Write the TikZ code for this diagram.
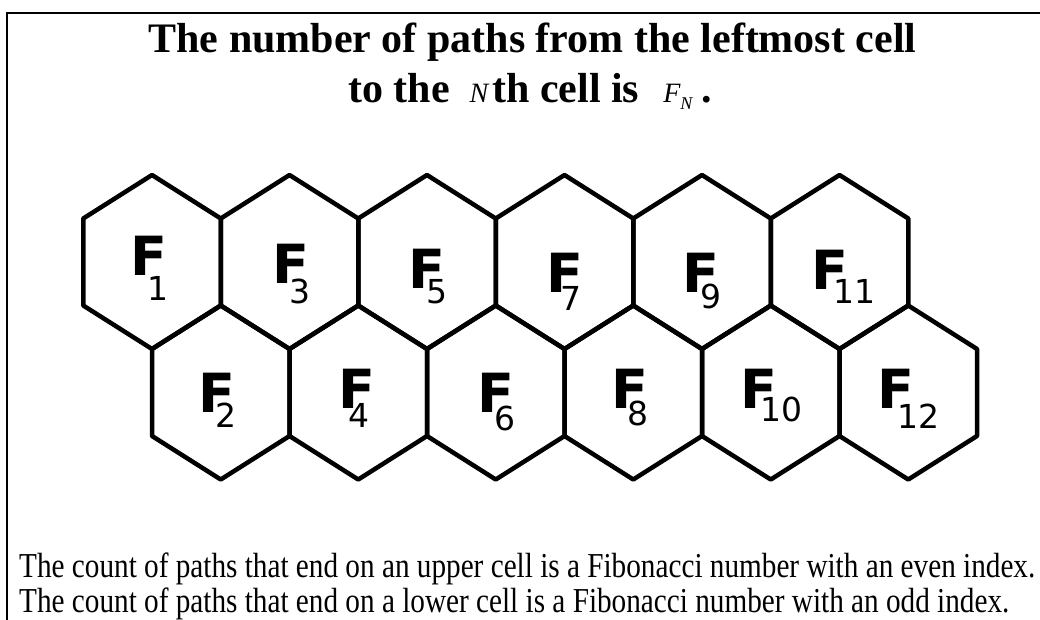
\documentclass[tikz,border=0pt]{standalone}
\usepackage{fontspec}
\setmainfont{Liberation Serif}
\newfontfamily\hexfont{DejaVu Sans}
\newcommand\hexlab[3]{\makebox[0pt][l]{F}\hspace{#1pt}\raisebox{-#2pt}{\mdseries\fontsize{33}{33}\selectfont #3}}
\begin{document}
\begin{tikzpicture}[x=1pt,y=-1pt,
  hexline/.style={line width=4.5pt,line join=round},
  frameline/.style={line width=2pt},
  flabel/.style={font=\hexfont\bfseries\fontsize{54}{54}\selectfont,inner sep=0pt,anchor=base west},
  titletext/.style={font=\bfseries\fontsize{42}{42}\selectfont,inner sep=0pt},
  bodytext/.style={font=\fontsize{35}{35}\selectfont,inner sep=0pt,anchor=base west}]
\useasboundingbox (0,0) rectangle (1040,620);
% frame (top and left sides visible)
\draw[frameline] (1040,13) -- (7,13) -- (7,620);
% title
\node[titletext,anchor=base] (t1) at (532.5,53) {The number of paths from the leftmost cell};
\node[titletext,anchor=base west] (t2) at (348,103) {to the\hspace{20pt}{\mdseries\itshape\fontsize{28}{28}\selectfont N}\hspace{4pt}th cell is\hspace{24pt}{\mdseries\itshape\fontsize{28}{28}\selectfont F\raisebox{-7pt}{\fontsize{18}{18}\selectfont N}}\hspace{9pt}.};
% hexagons
\foreach \i in {0,...,5}{
  \pgfmathsetmacro\ux{152+137.5*\i}
  \pgfmathsetmacro\lx{220.75+137.5*\i}
  \draw[hexline,shift={(\ux,262)}] (0,-87) -- (68.75,-43.5) -- (68.75,43.5) -- (0,87) -- (-68.75,43.5) -- (-68.75,-43.5) -- cycle;
  \draw[hexline,shift={(\lx,392.5)}] (0,-87) -- (68.75,-43.5) -- (68.75,43.5) -- (0,87) -- (-68.75,43.5) -- (-68.75,-43.5) -- cycle;
}
% labels: F at (fx,fy), subscript at (dx,dy)
\foreach \n/\fx/\fy/\dx/\dy in {1/135/275/150/300, 3/277/283/292/303, 5/413/288/429/303, 7/551/292/563/310, 9/687/292/703/308, 11/816/289/836/303, 2/203/412/218/427, 4/343/408/351/427, 6/482/412/497/430, 8/616/408/630/425, 10/745/408/763/421, 12/882/408/900/428}{
  \pgfmathsetmacro\hx{\dx-\fx+2}
  \pgfmathsetmacro\vy{\dy-\fy}
  \node[flabel] (F\n) at (\fx-5,\fy) {\hexlab{\hx}{\vy}{\n}};
}
% bottom text
\node[bodytext] (b1) at (19,577) {\scalebox{0.835}[1]{The count of paths that end on an upper cell is a Fibonacci number with an even index.}};
\node[bodytext] (b2) at (19,612) {\scalebox{0.835}[1]{The count of paths that end on a lower cell is a Fibonacci number with an odd index.}};
\end{tikzpicture}
\end{document}
